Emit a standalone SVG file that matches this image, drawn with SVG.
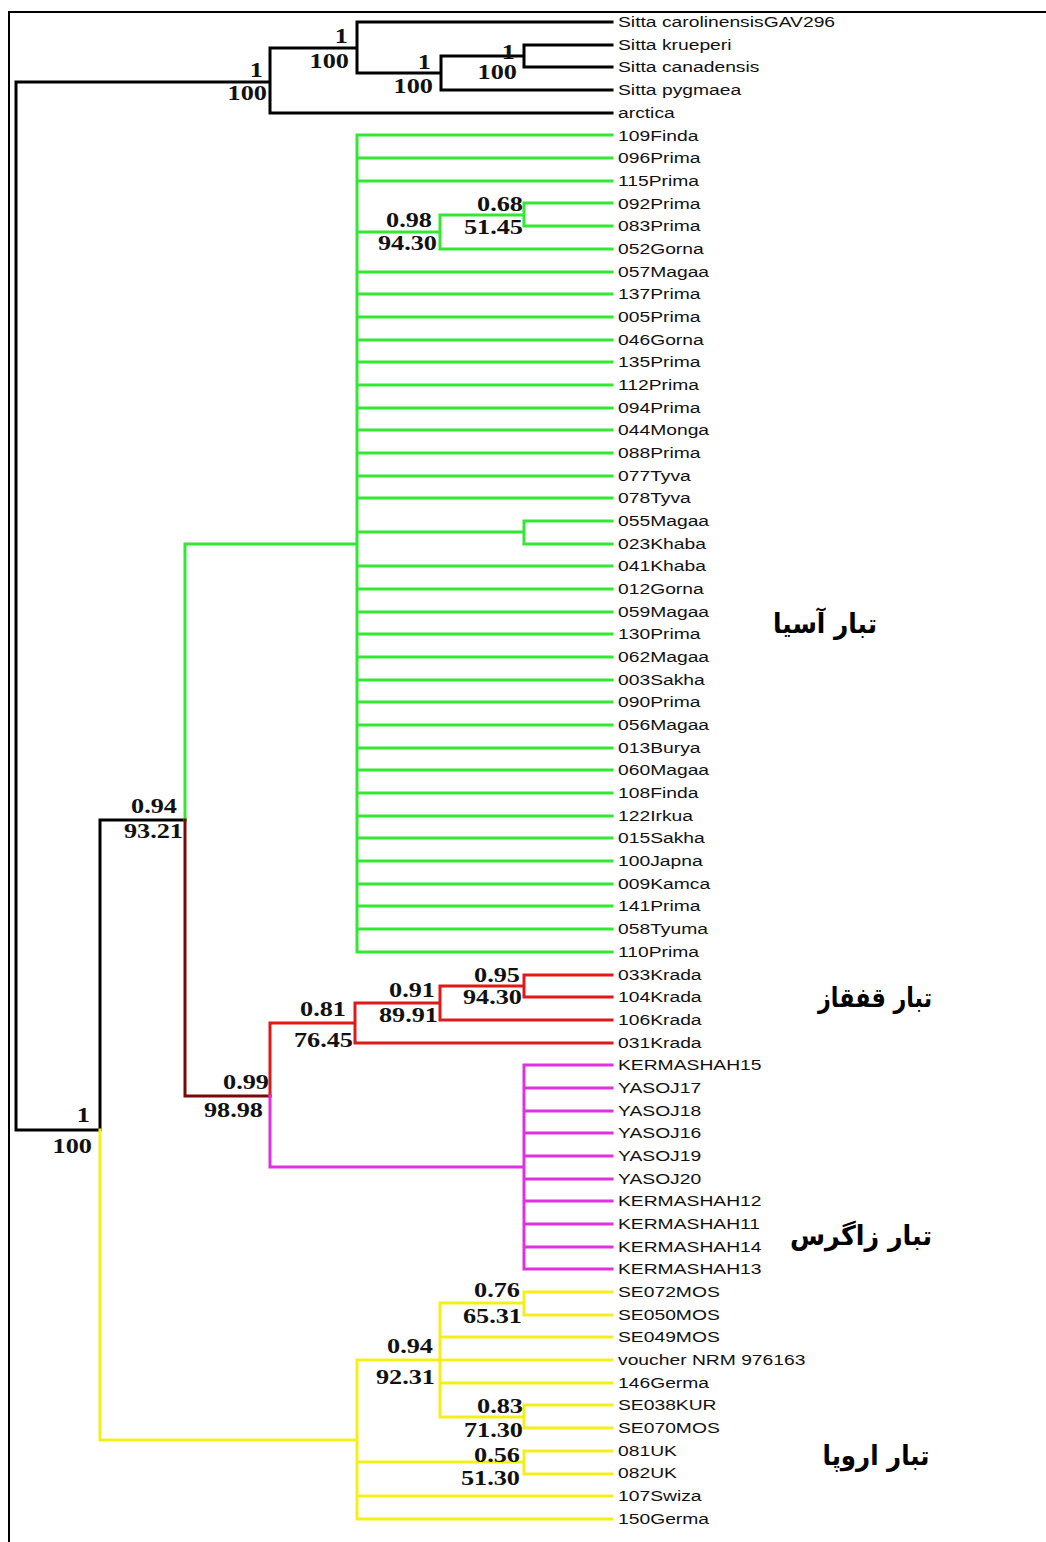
<svg xmlns="http://www.w3.org/2000/svg" width="1046" height="1542" viewBox="0 0 1046 1542">
<style>
.e{fill:none;stroke-width:3;stroke-linejoin:miter;stroke-linecap:square}
.k{stroke:#000}.g{stroke:#33e833}.r{stroke:#e01818}.d{stroke:#7a0808}.m{stroke:#e030e0}.y{stroke:#f5ef18}
.tip text{font-family:"Liberation Sans",Arial,sans-serif;font-size:14.5px;fill:#111}
.n{font-family:"Liberation Serif","Times New Roman",serif;font-weight:bold;font-size:21px;fill:#111;text-anchor:end}
.fa{font-family:"DejaVu Sans","Noto Sans",sans-serif;font-weight:bold;font-size:27px;fill:#000;text-anchor:middle}
</style>
<rect width="1046" height="1542" fill="#fff"/>
<path d="M9,1542 V12 H1046" fill="none" stroke="#000" stroke-width="2"/>
<g id="connectors">
<path class="e k" d="M16,82 H270 M16,82 V1130 H100 M100,820 V1130 M100,820 H185
M270,48 V113 M270,48 H357 M270,113 H612
M357,22 V73 M357,22 H612 M357,73 H441
M441,56 V90 M441,90 H612 M441,56 H524
M524,45 V67 M524,45 H612 M524,67 H612"/>
<path class="e g" d="M185,544 V820 M185,544 H357 M357,135 V952
M357,135 H612 M357,158 H612 M357,181 H612 M357,232 H440 M440,215 V249 M440,249 H612
M440,215 H524 M524,203 V226 M524,203 H612 M524,226 H612
M357,272 H612 M357,294 H612 M357,317 H612 M357,340 H612 M357,362 H612 M357,385 H612
M357,408 H612 M357,430 H612 M357,453 H612 M357,476 H612 M357,498 H612
M357,532 H524 M524,521 V544 M524,521 H612 M524,544 H612
M357,566 H612 M357,589 H612 M357,612 H612 M357,634 H612 M357,657 H612 M357,680 H612
M357,702 H612 M357,725 H612 M357,748 H612 M357,770 H612 M357,793 H612 M357,816 H612
M357,838 H612 M357,861 H612 M357,884 H612 M357,906 H612 M357,929 H612 M357,952 H612"/>
<path class="e d" d="M185,820 V1096 H270"/>
<path class="e r" d="M270,1096 V1023 H355 M355,1003 V1043 H612 M355,1003 H440 M440,986 V1020 H612 M440,986 H524 M524,975 V997 M524,975 H612 M524,997 H612"/>
<path class="e m" d="M270,1096 V1167 H524 M524,1065 V1269
M524,1065 H612 M524,1088 H612 M524,1111 H612 M524,1133 H612 M524,1156 H612 M524,1179 H612
M524,1201 H612 M524,1224 H612 M524,1247 H612 M524,1269 H612"/>
<path class="e y" d="M100,1130 V1440 H357 M357,1360 V1519
M357,1360 H612 M440,1303 V1417 M440,1303 H524 M524,1292 V1315 M524,1292 H612 M524,1315 H612
M440,1337 H612 M440,1383 H612 M440,1417 H524 M524,1405 V1428 M524,1405 H612 M524,1428 H612
M357,1462 H524 M524,1451 V1474 M524,1451 H612 M524,1474 H612
M357,1496 H612 M357,1519 H612"/>
</g>
<g id="tips" class="tip" transform="translate(618,0) scale(1.33,1)">
<g id="n-carolinensis"><text y="27">Sitta carolinensisGAV296</text></g>
<g id="n-krueperi"><text y="50">Sitta krueperi</text></g>
<g id="n-canadensis"><text y="72">Sitta canadensis</text></g>
<g id="n-pygmaea"><text y="95">Sitta pygmaea</text></g>
<g id="n-arctica"><text y="118">arctica</text></g>
<g id="n-109Finda"><text y="141">109Finda</text></g>
<g id="n-096Prima"><text y="163">096Prima</text></g>
<g id="n-115Prima"><text y="186">115Prima</text></g>
<g id="n-092Prima"><text y="209">092Prima</text></g>
<g id="n-083Prima"><text y="231">083Prima</text></g>
<g id="n-052Gorna"><text y="254">052Gorna</text></g>
<g id="n-057Magaa"><text y="277">057Magaa</text></g>
<g id="n-137Prima"><text y="299">137Prima</text></g>
<g id="n-005Prima"><text y="322">005Prima</text></g>
<g id="n-046Gorna"><text y="345">046Gorna</text></g>
<g id="n-135Prima"><text y="367">135Prima</text></g>
<g id="n-112Prima"><text y="390">112Prima</text></g>
<g id="n-094Prima"><text y="413">094Prima</text></g>
<g id="n-044Monga"><text y="435">044Monga</text></g>
<g id="n-088Prima"><text y="458">088Prima</text></g>
<g id="n-077Tyva"><text y="481">077Tyva</text></g>
<g id="n-078Tyva"><text y="503">078Tyva</text></g>
<g id="n-055Magaa"><text y="526">055Magaa</text></g>
<g id="n-023Khaba"><text y="549">023Khaba</text></g>
<g id="n-041Khaba"><text y="571">041Khaba</text></g>
<g id="n-012Gorna"><text y="594">012Gorna</text></g>
<g id="n-059Magaa"><text y="617">059Magaa</text></g>
<g id="n-130Prima"><text y="639">130Prima</text></g>
<g id="n-062Magaa"><text y="662">062Magaa</text></g>
<g id="n-003Sakha"><text y="685">003Sakha</text></g>
<g id="n-090Prima"><text y="707">090Prima</text></g>
<g id="n-056Magaa"><text y="730">056Magaa</text></g>
<g id="n-013Burya"><text y="753">013Burya</text></g>
<g id="n-060Magaa"><text y="775">060Magaa</text></g>
<g id="n-108Finda"><text y="798">108Finda</text></g>
<g id="n-122Irkua"><text y="821">122Irkua</text></g>
<g id="n-015Sakha"><text y="843">015Sakha</text></g>
<g id="n-100Japna"><text y="866">100Japna</text></g>
<g id="n-009Kamca"><text y="889">009Kamca</text></g>
<g id="n-141Prima"><text y="911">141Prima</text></g>
<g id="n-058Tyuma"><text y="934">058Tyuma</text></g>
<g id="n-110Prima"><text y="957">110Prima</text></g>
<g id="n-033Krada"><text y="980">033Krada</text></g>
<g id="n-104Krada"><text y="1002">104Krada</text></g>
<g id="n-106Krada"><text y="1025">106Krada</text></g>
<g id="n-031Krada"><text y="1048">031Krada</text></g>
<g id="n-KERMASHAH15"><text y="1070">KERMASHAH15</text></g>
<g id="n-YASOJ17"><text y="1093">YASOJ17</text></g>
<g id="n-YASOJ18"><text y="1116">YASOJ18</text></g>
<g id="n-YASOJ16"><text y="1138">YASOJ16</text></g>
<g id="n-YASOJ19"><text y="1161">YASOJ19</text></g>
<g id="n-YASOJ20"><text y="1184">YASOJ20</text></g>
<g id="n-KERMASHAH12"><text y="1206">KERMASHAH12</text></g>
<g id="n-KERMASHAH11"><text y="1229">KERMASHAH11</text></g>
<g id="n-KERMASHAH14"><text y="1252">KERMASHAH14</text></g>
<g id="n-KERMASHAH13"><text y="1274">KERMASHAH13</text></g>
<g id="n-SE072MOS"><text y="1297">SE072MOS</text></g>
<g id="n-SE050MOS"><text y="1320">SE050MOS</text></g>
<g id="n-SE049MOS"><text y="1342">SE049MOS</text></g>
<g id="n-voucher"><text y="1365">voucher NRM 976163</text></g>
<g id="n-146Germa"><text y="1388">146Germa</text></g>
<g id="n-SE038KUR"><text y="1410">SE038KUR</text></g>
<g id="n-SE070MOS"><text y="1433">SE070MOS</text></g>
<g id="n-081UK"><text y="1456">081UK</text></g>
<g id="n-082UK"><text y="1478">082UK</text></g>
<g id="n-107Swiza"><text y="1501">107Swiza</text></g>
<g id="n-150Germa"><text y="1524">150Germa</text></g>
</g>
<g id="support">
<g id="s-out1"><text class="n" transform="translate(263,77) scale(1.25,1)">1</text><text class="n" transform="translate(267,100) scale(1.25,1)">100</text></g>
<g id="s-out2"><text class="n" transform="translate(348,43) scale(1.25,1)">1</text><text class="n" transform="translate(349,68) scale(1.25,1)">100</text></g>
<g id="s-out3"><text class="n" transform="translate(431,69) scale(1.25,1)">1</text><text class="n" transform="translate(433,93) scale(1.25,1)">100</text></g>
<g id="s-out4"><text class="n" transform="translate(515,59) scale(1.25,1)">1</text><text class="n" transform="translate(517,79) scale(1.25,1)">100</text></g>
<g id="s-g1"><text class="n" transform="translate(432,227) scale(1.25,1)">0.98</text><text class="n" transform="translate(437,250) scale(1.25,1)">94.30</text></g>
<g id="s-g2"><text class="n" transform="translate(523,211) scale(1.25,1)">0.68</text><text class="n" transform="translate(523,234) scale(1.25,1)">51.45</text></g>
<g id="s-in1"><text class="n" transform="translate(177,813) scale(1.25,1)">0.94</text><text class="n" transform="translate(183,838) scale(1.25,1)">93.21</text></g>
<g id="s-r1"><text class="n" transform="translate(520,982) scale(1.25,1)">0.95</text><text class="n" transform="translate(522,1004) scale(1.25,1)">94.30</text></g>
<g id="s-r2"><text class="n" transform="translate(435,997) scale(1.25,1)">0.91</text><text class="n" transform="translate(438,1022) scale(1.25,1)">89.91</text></g>
<g id="s-r3"><text class="n" transform="translate(346,1016) scale(1.25,1)">0.81</text><text class="n" transform="translate(353,1047) scale(1.25,1)">76.45</text></g>
<g id="s-rz"><text class="n" transform="translate(269,1089) scale(1.25,1)">0.99</text><text class="n" transform="translate(263,1117) scale(1.25,1)">98.98</text></g>
<g id="s-root"><text class="n" transform="translate(90,1122) scale(1.25,1)">1</text><text class="n" transform="translate(92,1153) scale(1.25,1)">100</text></g>
<g id="s-y1"><text class="n" transform="translate(520,1297) scale(1.25,1)">0.76</text><text class="n" transform="translate(522,1323) scale(1.25,1)">65.31</text></g>
<g id="s-y2"><text class="n" transform="translate(433,1353) scale(1.25,1)">0.94</text><text class="n" transform="translate(435,1384) scale(1.25,1)">92.31</text></g>
<g id="s-y3"><text class="n" transform="translate(523,1413) scale(1.25,1)">0.83</text><text class="n" transform="translate(523,1437) scale(1.25,1)">71.30</text></g>
<g id="s-y4"><text class="n" transform="translate(520,1462) scale(1.25,1)">0.56</text><text class="n" transform="translate(520,1485) scale(1.25,1)">51.30</text></g>
</g>
<g id="clades">
<g id="c-asia"><text class="fa" x="825" y="633" textLength="104" lengthAdjust="spacingAndGlyphs">تبار آسیا</text></g>
<g id="c-caucasus"><text class="fa" x="875" y="1007" textLength="114" lengthAdjust="spacingAndGlyphs">تبار قفقاز</text></g>
<g id="c-zagros"><text class="fa" x="861" y="1245" textLength="142" lengthAdjust="spacingAndGlyphs">تبار زاگرس</text></g>
<g id="c-europe"><text class="fa" x="876" y="1465" textLength="107" lengthAdjust="spacingAndGlyphs">تبار اروپا</text></g>
</g>
</svg>
